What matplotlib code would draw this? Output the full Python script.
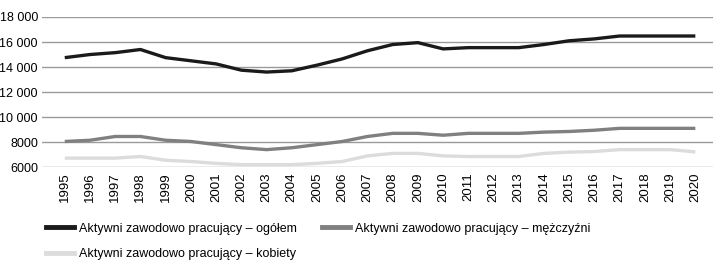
import matplotlib
matplotlib.use("Agg")
import matplotlib.pyplot as plt
from matplotlib.lines import Line2D

# dane
years = list(range(1995, 2021))
ogolem = [14750, 15000, 15150, 15400, 14750, 14500, 14250, 13750, 13600, 13700,
          14150, 14650, 15300, 15800, 15950, 15450, 15550, 15550, 15550, 15800,
          16100, 16250, 16480, 16480, 16480, 16480]
mezczyzni = [8050, 8150, 8450, 8450, 8150, 8050, 7800, 7550, 7400, 7550,
             7800, 8050, 8450, 8700, 8700, 8550, 8700, 8700, 8700, 8800,
             8850, 8950, 9100, 9100, 9100, 9100]
kobiety = [6720, 6720, 6720, 6850, 6550, 6450, 6300, 6200, 6200, 6200,
           6300, 6450, 6900, 7100, 7100, 6900, 6850, 6850, 6850, 7100,
           7200, 7250, 7400, 7400, 7400, 7220]
labels = ["Aktywni zawodowo pracujący – ogółem",
          "Aktywni zawodowo pracujący – mężczyźni",
          "Aktywni zawodowo pracujący – kobiety"]
colors = ["#1a1a1a", "#808080", "#dcdcdc"]
yticks = [6000, 8000, 10000, 12000, 14000, 16000, 18000]
ytick_labels = ["6000", "8000", "10 000", "12 000", "14 000", "16 000", "18 000"]

plt.rcParams["font.family"] = ["Liberation Sans", "DejaVu Sans"]

fig = plt.figure(figsize=(7.13, 2.74), dpi=100)
ax = fig.add_axes([0.059, 0.39, 0.941, 0.548])

x = list(range(len(years)))
for series, c in zip([ogolem, mezczyzni, kobiety], colors):
    ax.plot(x, series, color=c, lw=2.4, solid_capstyle="butt", zorder=3)

ax.set_ylim(6000, 18000)
ax.set_yticks(yticks)
ax.set_yticklabels(ytick_labels, fontsize=9)
ax.set_xlim(-0.9, len(years) - 0.3)
ax.set_xticks(x)
ax.set_xticklabels([str(y) for y in years], rotation=90, fontsize=9.5)
ax.tick_params(axis="y", length=0, pad=3)
ax.tick_params(axis="x", length=0, pad=4)
ax.grid(axis="y", color="#9a9a9a", lw=1)
for s in ax.spines.values():
    s.set_visible(False)

handles = [Line2D([], [], color=c, lw=3.5) for c in colors]
order = [0, 2, 1]
fig.legend([handles[i] for i in order], [labels[i] for i in order],
           ncol=2, loc="upper left", bbox_to_anchor=(0.057, 0.205),
           frameon=False, fontsize=9, handlelength=2.3, handletextpad=0.35,
           columnspacing=2.0, labelspacing=1.05, borderaxespad=0)

fig.savefig("out.png", dpi=100)
